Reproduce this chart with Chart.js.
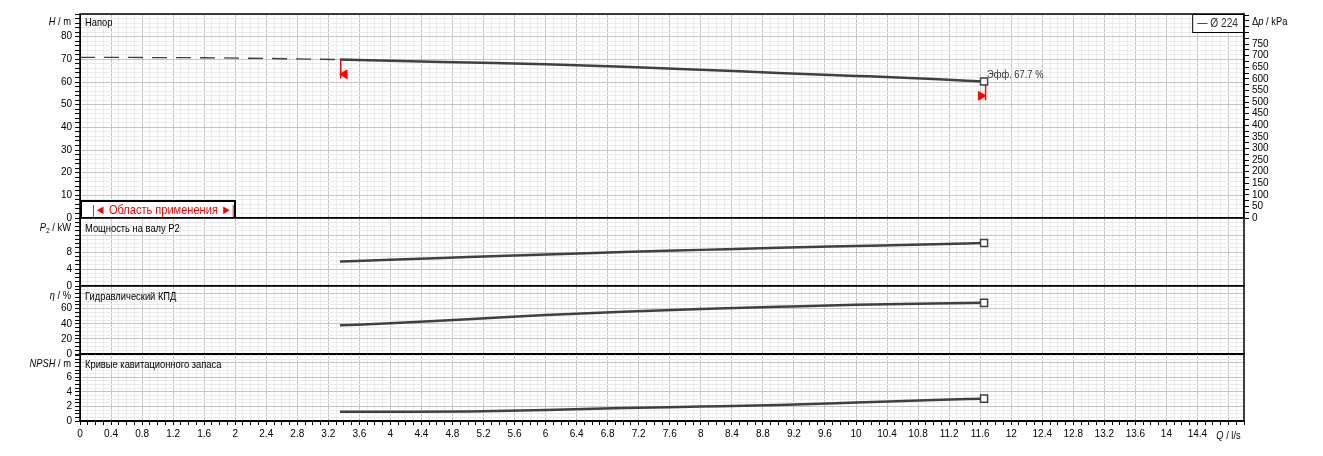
<!DOCTYPE html>
<html>
<head>
<meta charset="utf-8">
<script src="https://cdn.jsdelivr.net/npm/chart.js@4.4.0/dist/chart.umd.min.js"></script>
<style>
  body { margin: 0; background: #fff; width: 1323px; height: 456px; position: relative; overflow: hidden; }
  .panel { position: absolute; left: 0; width: 1323px; }
  canvas { display: block; }
</style>
</head>
<body>
<div class="panel" id="headBox"><canvas id="head" width="1323" height="244"></canvas></div>
<div class="panel" id="powerBox"><canvas id="power" width="1323" height="108"></canvas></div>
<div class="panel" id="effBox"><canvas id="eff" width="1323" height="108"></canvas></div>
<div class="panel" id="npshBox"><canvas id="npsh" width="1323" height="122"></canvas></div>
<script>
// flow points of the Ø 224 curve, l/s
const flowQ   = [3.35, 4, 5, 6, 7, 8, 9, 10, 11, 11.65];
const headH   = [69.9, 69.4, 68.6, 67.8, 66.7, 65.4, 64.0, 62.7, 61.3, 60.2];
const powerP2 = [5.75, 6.2, 6.8, 7.4, 8.0, 8.5, 9.0, 9.4, 9.8, 10.1];
const effEta  = [38.0, 40.6, 46.0, 51.7, 56.0, 59.5, 62.5, 65.2, 67.0, 67.7];
const npshR   = [1.27, 1.28, 1.32, 1.52, 1.78, 1.98, 2.2, 2.53, 2.88, 3.07];

// dashed head outside the working range
const extQ = [0, 1.6, 2.4, 3.35];
const extH = [70.9, 70.7, 70.4, 69.9];

// application range limits (red markers)
const rangeQ      = [3.36, 11.67];
const rangeTopH   = [69.9, 60.2];
const rangeBotH   = [61.5, 52.0];
const rangeFlagQ  = [3.41, 11.61];
const rangeFlagH  = [63.4, 53.9];

// axis ranges / tick steps
const qMax = 15, qStep = 0.1, qMajor = 0.4, qLastLabel = 14.4, qTitleAt = 14.8;
const hMax = 90, hStep = 2, hMajor = 10, hLastLabel = 80;
const kpaMax = 880, kpaStep = 25, kpaMajor = 50, kpaLastLabel = 750;
const pMax = 16, pStep = 1, pMajor = 4, pLastLabel = 8;
const etaMax = 90, etaStep = 5, etaMajor = 20, etaLastLabel = 60;
const npshMax = 9.2, npshStep = 0.5, npshMajor = 2, npshLastLabel = 6;

const FONT = '"Liberation Sans", Arial, sans-serif';
const SQUEEZE = 0.85;   // the original uses a narrow bitmap font
const MAJOR = '#c4c4c4';
const MINOR = '#ebebeb';
const CURVE = '#404040';
const RED = '#ff0000';
const PAD = 20;         // top padding inside each canvas

Chart.defaults.font.family = FONT;
Chart.defaults.font.size = 10;
Chart.defaults.color = '#000';

function isMajor(v, step) {
  const r = v / step;
  return Math.abs(r - Math.round(r)) < 1e-6;
}
function fmt(v) { return String(Math.round(v * 10) / 10); }
function pts(xs, ys) { return xs.map((x, i) => ({ x: x, y: ys[i] })); }

function xAxis(bottom) {
  return {
    type: 'linear', min: 0, max: qMax,
    ticks: {
      display: bottom, stepSize: qStep, autoSkip: false, maxRotation: 0, minRotation: 0,
      padding: 3, includeBounds: false,
      callback: v => (isMajor(v, qMajor) && v <= qLastLabel + 1e-6) ? fmt(v) : ''
    },
    grid: {
      color: c => isMajor(c.tick.value, qMajor) ? MAJOR : MINOR,
      drawTicks: bottom, tickLength: 4, tickColor: '#000'
    },
    border: { display: true, color: '#000', width: 2 },
    afterFit: s => { s.height = bottom ? 35 : 0; }
  };
}

function yAxis(max, step, major, lastLabel) {
  return {
    type: 'linear', position: 'left', min: 0, max: max,
    ticks: {
      stepSize: step, autoSkip: false, includeBounds: false, padding: 3,
      callback: v => (isMajor(v, major) && v <= lastLabel + 1e-6) ? fmt(v) : ''
    },
    grid: {
      color: c => isMajor(c.tick.value, major) ? MAJOR : MINOR,
      tickLength: 5, tickColor: '#000'
    },
    border: { color: '#000', width: 1 },
    afterFit: s => { s.width = 80; }
  };
}

function drawParts(ctx, parts, x, y, align) {
  // parts: [text, italic, size, dy]
  ctx.textBaseline = 'middle';
  ctx.textAlign = 'left';
  const fonts = parts.map(p => (p[1] ? 'italic ' : '') + (p[2] || 11) + 'px ' + FONT);
  const widths = parts.map((p, i) => { ctx.font = fonts[i]; return ctx.measureText(p[0]).width; });
  const total = widths.reduce((a, b) => a + b, 0) * SQUEEZE;
  const x0 = align === 'right' ? x - total : (align === 'center' ? x - total / 2 : x);
  ctx.save();
  ctx.translate(x0, y);
  ctx.scale(SQUEEZE, 1);
  let cx = 0;
  parts.forEach((p, i) => {
    ctx.font = fonts[i];
    ctx.fillText(p[0], cx, p[3] || 0);
    cx += widths[i];
  });
  ctx.restore();
  return total;
}

// frame, panel caption and axis title for every panel
const decoPlugin = {
  id: 'deco',
  afterDraw(chart, args, opts) {
    const { ctx, chartArea: a } = chart;
    ctx.save();
    ctx.strokeStyle = '#000';
    ctx.lineWidth = 1.5;
    ctx.strokeRect(a.left, a.top, a.right - a.left, a.bottom - a.top);
    ctx.fillStyle = '#000';
    if (opts.caption) drawParts(ctx, [[opts.caption, false, 11]], a.left + 5, a.top + (opts.dy || 11), 'left');
    if (opts.axisTitle) drawParts(ctx, opts.axisTitle, a.left - 9, a.top + (opts.dy || 11) - 1, 'right');
    if (opts.extra) opts.extra(chart, ctx, a);
    ctx.restore();
  }
};
Chart.register(decoPlugin);

function lineSet(xs, ys) {
  const last = xs.length - 1;
  return {
    data: pts(xs, ys), yAxisID: 'y',
    borderColor: CURVE, borderWidth: 2.5, cubicInterpolationMode: 'monotone',
    pointStyle: 'rect',
    pointRadius: c => c.dataIndex === last ? 5 : 0,
    pointBackgroundColor: '#fff', pointBorderColor: CURVE, pointBorderWidth: 1.5
  };
}

function baseOptions(scales, deco, padding) {
  return {
    responsive: false, maintainAspectRatio: false, animation: false, devicePixelRatio: 1,
    layout: { padding: padding },
    plugins: { legend: { display: false }, tooltip: { enabled: false }, deco: deco },
    scales: scales
  };
}

// put the chart area of a panel exactly on [top, bottom] of the page
function placePanel(chart, boxId, top, bottom) {
  for (let i = 0; i < 4; i++) {
    const ca = chart.chartArea;
    const dTop = PAD - ca.top;
    const dBot = ca.bottom - (PAD + bottom - top);
    if (Math.abs(dTop) < 0.5 && Math.abs(dBot) < 0.5) break;
    const p = chart.config.options.layout.padding;
    chart.config.options.layout.padding = {
      top: p.top + dTop, bottom: p.bottom + dBot, left: p.left, right: p.right
    };
    chart.update();
  }
  const box = document.getElementById(boxId);
  box.style.top = (top - chart.chartArea.top) + 'px';
  box.style.height = chart.height + 'px';
}

// ---- panel 1: head
const headChart = new Chart(document.getElementById('head'), {
  type: 'line',
  data: {
    datasets: [
      {
        data: pts(extQ, extH), yAxisID: 'y', borderColor: CURVE, borderWidth: 1.3,
        borderDash: [15, 9], pointRadius: 0
      },
      lineSet(flowQ, headH),
      {
        data: [{ x: rangeQ[0], y: rangeTopH[0] }, { x: rangeQ[0], y: rangeBotH[0] }], yAxisID: 'y',
        borderColor: RED, borderWidth: 1.5, pointRadius: 0
      },
      {
        data: [{ x: rangeQ[1], y: rangeTopH[1] }, { x: rangeQ[1], y: rangeBotH[1] }], yAxisID: 'y',
        borderColor: RED, borderWidth: 1.5, pointRadius: 0
      },
      {
        data: pts(rangeFlagQ, rangeFlagH), yAxisID: 'y', showLine: false,
        pointStyle: 'triangle', pointRadius: 5, rotation: [-90, 90],
        pointBackgroundColor: RED, pointBorderColor: RED, pointBorderWidth: 1
      }
    ]
  },
  options: baseOptions({
    x: xAxis(false),
    y: yAxis(hMax, hStep, hMajor, hLastLabel),
    kpa: {
      type: 'linear', position: 'right', min: 0, max: kpaMax,
      ticks: {
        stepSize: kpaStep, autoSkip: false, includeBounds: false, padding: 3,
        callback: v => (isMajor(v, kpaMajor) && v <= kpaLastLabel) ? String(v) : ''
      },
      grid: { drawOnChartArea: false, tickLength: 5, tickColor: '#000' },
      border: { color: '#000', width: 1.5 },
      afterFit: s => { s.width = 79; }
    }
  }, {
    caption: 'Напор', dy: 9,
    axisTitle: [['H', true], [' / m', false]],
    extra: (chart, ctx, a) => {
      const xs = chart.scales.x, ys = chart.scales.y;
      // right axis title
      ctx.fillStyle = '#000';
      drawParts(ctx, [['Δ', false, 11], ['p', true, 11], [' / kPa', false, 11]], a.right + 8, a.top + 8, 'left');
      // legend box
      ctx.font = '12px ' + FONT;
      const lw = ctx.measureText('— Ø 224').width * SQUEEZE + 11;
      ctx.fillStyle = '#fff';
      ctx.fillRect(a.right - lw, a.top, lw, 18);
      ctx.strokeStyle = '#000';
      ctx.lineWidth = 1;
      ctx.strokeRect(a.right - lw + 0.5, a.top + 0.5, lw - 1, 18);
      ctx.fillStyle = '#333';
      drawParts(ctx, [['— Ø 224', false, 12]], a.right - lw + 5, a.top + 10, 'left');
      // efficiency note at duty end point
      const last = flowQ.length - 1;
      ctx.fillStyle = '#333';
      drawParts(ctx, [['Эфф. ' + effEta[last] + ' %', false, 11]],
        xs.getPixelForValue(flowQ[last]) + 3, ys.getPixelForValue(headH[last]) - 7, 'left');
      // application range box
      const bx = a.left, by = a.bottom - 17, bw = 155;
      ctx.fillStyle = '#fff';
      ctx.fillRect(bx, by, bw, 17);
      ctx.strokeStyle = '#000';
      ctx.lineWidth = 2;
      ctx.strokeRect(bx + 1, by, bw - 1, 17);
      ctx.fillStyle = RED;
      drawParts(ctx, [['|◄ Область применения ►|', false, 13]], bx + 12, by + 9, 'left');
    }
  }, { top: PAD, bottom: 20, left: 0, right: 0 })
});

// ---- panel 2: shaft power
const powerChart = new Chart(document.getElementById('power'), {
  type: 'line',
  data: { datasets: [lineSet(flowQ, powerP2)] },
  options: baseOptions({
    x: xAxis(false),
    y: yAxis(pMax, pStep, pMajor, pLastLabel)
  }, {
    caption: 'Мощность на валу P2',
    axisTitle: [['P', true], ['2', false, 8, 3], [' / kW', false]]
  }, { top: PAD, bottom: 20, left: 0, right: 79 })
});

// ---- panel 3: hydraulic efficiency
const effChart = new Chart(document.getElementById('eff'), {
  type: 'line',
  data: { datasets: [lineSet(flowQ, effEta)] },
  options: baseOptions({
    x: xAxis(false),
    y: yAxis(etaMax, etaStep, etaMajor, etaLastLabel)
  }, {
    caption: 'Гидравлический КПД',
    axisTitle: [['η', true], [' / %', false]]
  }, { top: PAD, bottom: 20, left: 0, right: 79 })
});

// ---- panel 4: NPSH
const npshChart = new Chart(document.getElementById('npsh'), {
  type: 'line',
  data: { datasets: [lineSet(flowQ, npshR)] },
  options: baseOptions({
    x: xAxis(true),
    y: yAxis(npshMax, npshStep, npshMajor, npshLastLabel)
  }, {
    caption: 'Кривые кавитационного запаса',
    axisTitle: [['NPSH', true], [' / m', false]],
    extra: (chart, ctx, a) => {
      ctx.fillStyle = '#000';
      drawParts(ctx, [['Q', true, 11], [' / l/s', false, 11]], chart.scales.x.getPixelForValue(qTitleAt), a.bottom + 15, 'center');
    }
  }, { top: PAD, bottom: 0, left: 0, right: 79 })
});

placePanel(headChart, 'headBox', 14, 218);
placePanel(powerChart, 'powerBox', 218, 286);
placePanel(effChart, 'effBox', 286, 354);
placePanel(npshChart, 'npshBox', 354, 421);
</script>
</body>
</html>
